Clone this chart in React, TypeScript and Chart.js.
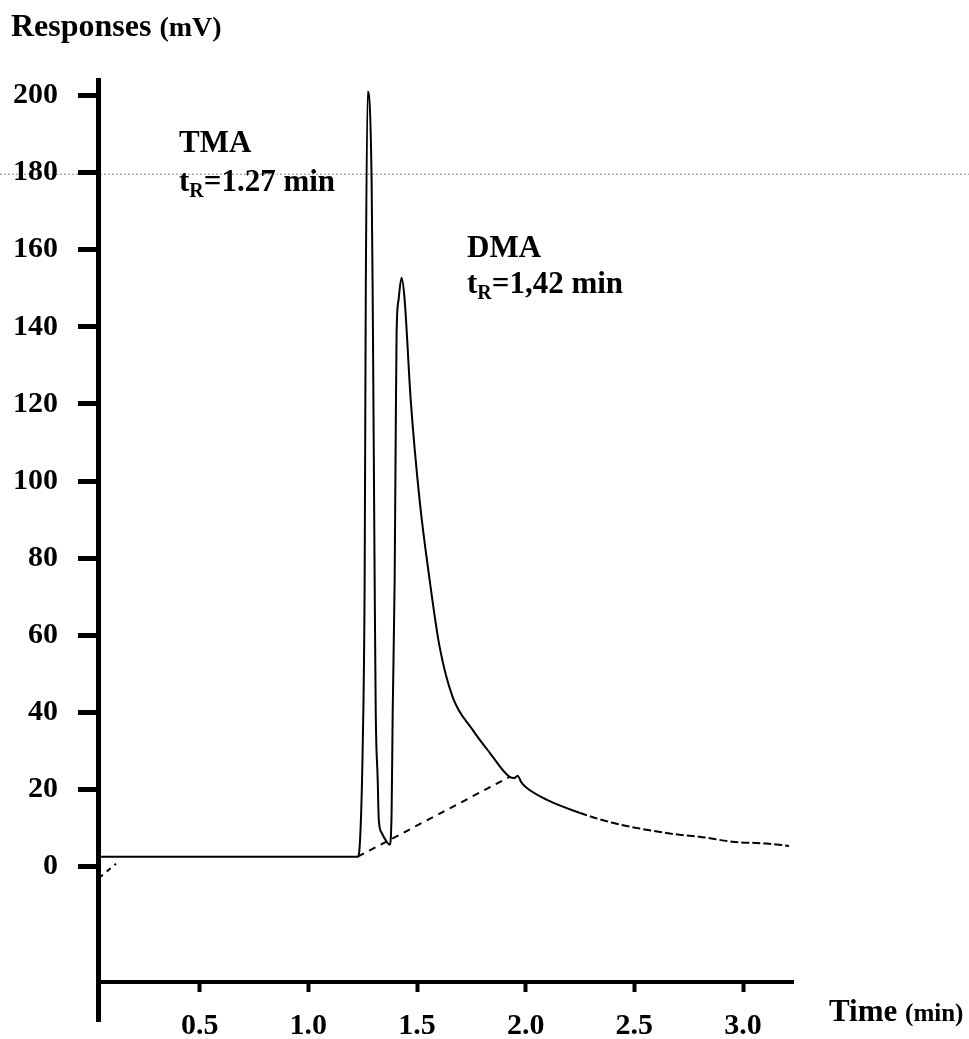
import React, { useEffect, useRef } from "react";
import { Chart, registerables } from "chart.js";

Chart.register(...registerables);

// ---- data ----
const X_TICKS = [0.5, 1.0, 1.5, 2.0, 2.5, 3.0];
const Y_TICKS = [0, 20, 40, 60, 80, 100, 120, 140, 160, 180, 200];

const TIME_MIN = [
  0.032, 1.227, 1.236, 1.25, 1.259, 1.264, 1.273, 1.291, 1.296, 1.305, 1.31,
  1.319, 1.324, 1.337, 1.36, 1.374, 1.383, 1.388, 1.397, 1.402, 1.406, 1.415,
  1.429, 1.443, 1.471, 1.512, 1.558, 1.604, 1.664, 1.756, 1.834, 1.926, 1.949,
  1.962, 1.981, 2.004, 2.096, 2.247, 2.399, 2.555, 2.707, 2.799, 2.95, 3.107,
  3.212,
];
const SIGNAL_MV = [
  2.6, 2.6, 5.2, 31.1, 74.4, 147, 201, 178, 148, 74.4, 40, 22.6, 12.2, 8.8,
  6.5, 5.7, 14, 40, 74.4, 112.5, 138.5, 147, 152.7, 147, 121, 95, 74.4, 57, 44,
  35.5, 29.6, 23.3, 23, 23.6, 21.8, 20.5, 17.4, 14, 11.4, 9.6, 8.3, 7.8, 6.5,
  6.0, 5.4,
];

const BASELINE_TIME = [1.227, 1.926];
const BASELINE_MV = [2.6, 23.3];

const ORIGIN_DASH_TIME = [0.037, 0.115];
const ORIGIN_DASH_MV = [-2.9, 0.8];

const SCAN_LINE_MV = 179.7;

const X_MIN = 0.032;
const X_MAX = 3.23;
const Y_MIN = -40;
const Y_MAX = 204;
const X_AXIS_AT_MV = -30;

const PEAKS = [
  { name: "TMA", tr: "1.27" },
  { name: "DMA", tr: "1,42" },
];

const SERIF = "'Liberation Serif', 'Times New Roman', serif";

function toPoints(xs: number[], ys: number[]) {
  return xs.map((x, i) => ({ x, y: ys[i] }));
}

type Part = { text: string; size: number; dy?: number };

function drawParts(ctx: CanvasRenderingContext2D, x: number, y: number, parts: Part[]) {
  let cx = x;
  for (const p of parts) {
    ctx.font = `bold ${p.size}px ${SERIF}`;
    ctx.fillText(p.text, cx, y + (p.dy || 0));
    cx += ctx.measureText(p.text).width;
  }
}

export default function App() {
  const ref = useRef<HTMLCanvasElement>(null);

  useEffect(() => {
    const canvas = ref.current;
    if (!canvas) return;

    const overlay = {
      id: "overlay",
      beforeDraw(chart: any) {
        const { ctx, width } = chart;
        const yPix = chart.scales.y.getPixelForValue(SCAN_LINE_MV);
        ctx.save();
        ctx.strokeStyle = "#8a8a8a";
        ctx.lineWidth = 1;
        ctx.setLineDash([2, 2]);
        ctx.beginPath();
        ctx.moveTo(0, yPix + 0.5);
        ctx.lineTo(width, yPix + 0.5);
        ctx.stroke();
        ctx.restore();
      },
      afterDraw(chart: any) {
        const ctx = chart.ctx as CanvasRenderingContext2D;
        ctx.save();
        ctx.fillStyle = "#000";
        ctx.textAlign = "left";
        ctx.textBaseline = "alphabetic";
        // y-axis title
        drawParts(ctx, 11, 36, [
          { text: "Responses ", size: 32 },
          { text: "(mV)", size: 28 },
        ]);
        // x-axis title
        drawParts(ctx, 829, 1021, [
          { text: "Time ", size: 31 },
          { text: "(min)", size: 25 },
        ]);
        // peak labels
        const spots = [
          { x: 179, y1: 152, y2: 191 },
          { x: 467, y1: 257, y2: 293 },
        ];
        PEAKS.forEach((p, i) => {
          const s = spots[i];
          drawParts(ctx, s.x, s.y1, [{ text: p.name, size: 31 }]);
          drawParts(ctx, s.x, s.y2, [
            { text: "t", size: 31 },
            { text: "R", size: 20, dy: 6 },
            { text: "=" + p.tr + " min", size: 31 },
          ]);
        });
        ctx.restore();
      },
    };

    const chart = new Chart(canvas, {
      type: "line",
      data: {
        datasets: [
          {
            data: toPoints(TIME_MIN, SIGNAL_MV),
            borderColor: "#000",
            borderWidth: 2,
            pointRadius: 0,
            cubicInterpolationMode: "monotone",
            segment: {
              borderDash: (c: any) => (c.p0.parsed.x >= 2.2 ? [8, 3] : undefined),
            },
          },
          {
            data: toPoints(BASELINE_TIME, BASELINE_MV),
            borderColor: "#000",
            borderWidth: 2,
            borderDash: [7, 6],
            pointRadius: 0,
          },
          {
            data: toPoints(ORIGIN_DASH_TIME, ORIGIN_DASH_MV),
            borderColor: "#000",
            borderWidth: 2,
            borderDash: [5, 5],
            pointRadius: 0,
          },
        ],
      },
      options: {
        responsive: false,
        animation: false,
        devicePixelRatio: 1,
        layout: { padding: { left: 0, top: 80, right: 176, bottom: 18 } },
        plugins: {
          legend: { display: false },
          tooltip: { enabled: false },
          title: { display: false },
        },
        scales: {
          x: {
            type: "linear",
            min: X_MIN,
            max: X_MAX,
            position: { y: X_AXIS_AT_MV } as any,
            afterBuildTicks: (s: any) => {
              s.ticks = X_TICKS.map((v) => ({ value: v }));
            },
            afterFit: (s: any) => {
              s.height = 0;
              s.paddingLeft = 0;
              s.paddingRight = 0;
            },
            grid: {
              drawOnChartArea: false,
              drawTicks: true,
              tickLength: 8,
              tickWidth: 4,
              tickColor: "#000",
            },
            border: { display: true, color: "#000", width: 4 },
            ticks: {
              color: "#000",
              padding: 18,
              maxRotation: 0,
              font: { family: SERIF, size: 30, weight: "bold" },
              callback: (v: any) => Number(v).toFixed(1),
            },
          },
          y: {
            type: "linear",
            min: Y_MIN,
            max: Y_MAX,
            afterBuildTicks: (s: any) => {
              s.ticks = Y_TICKS.map((v) => ({ value: v }));
            },
            afterFit: (s: any) => {
              s.width = 98;
              s.paddingTop = 0;
              s.paddingBottom = 0;
            },
            grid: {
              drawOnChartArea: false,
              drawTicks: true,
              tickLength: 20,
              tickWidth: 5,
              tickColor: "#000",
            },
            border: { display: true, color: "#000", width: 5 },
            ticks: {
              color: "#000",
              padding: 20,
              font: { family: SERIF, size: 30, weight: "bold" },
              callback: (v: any) => String(v),
            },
          },
        },
      },
      plugins: [overlay],
    });

    return () => chart.destroy();
  }, []);

  return (
    <div style={{ position: "fixed", left: 0, top: 0, width: 969, height: 1039, background: "#fff" }}>
      <canvas ref={ref} width={969} height={1039} style={{ display: "block" }} />
    </div>
  );
}
